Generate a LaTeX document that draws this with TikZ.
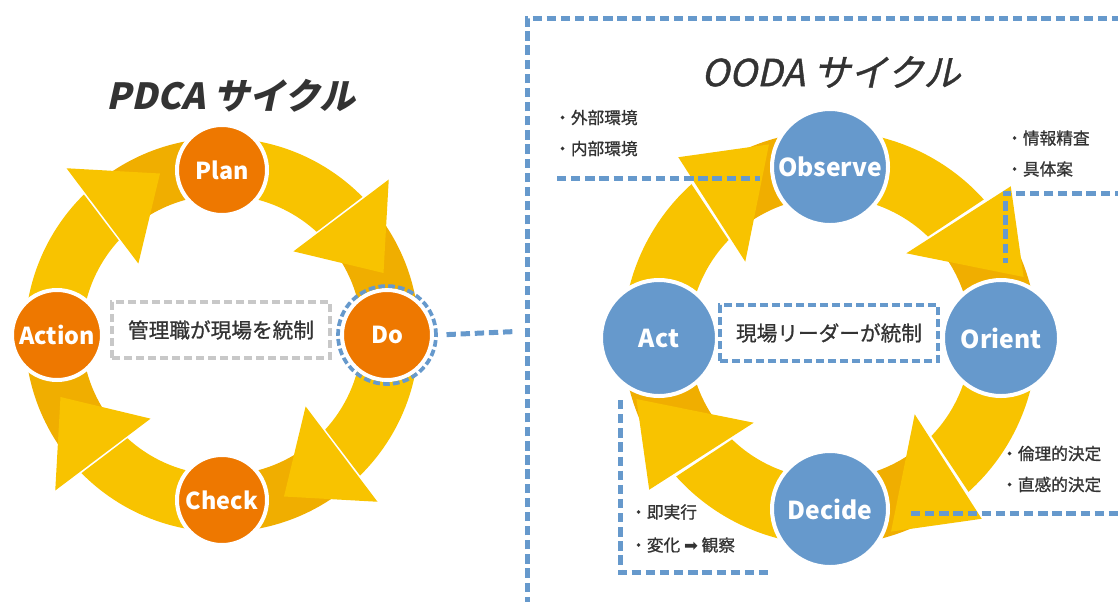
\documentclass[tikz,border=0pt]{standalone}
\usepackage{fontspec}
\setmainfont{Noto Sans CJK JP}[AutoFakeSlant=0.22]
\newfontfamily\titlefont{Noto Sans CJK JP}[FakeSlant=0.22]
\newfontfamily\titlemed{Noto Sans CJK JP}[FakeSlant=0.22, FakeBold=1]
\newfontfamily\medfont{Noto Sans CJK JP}[FakeBold=0.9]
\newfontfamily\symfont{DejaVu Sans}

\definecolor{ringyellow}{HTML}{F8C300}
\definecolor{ringdark}{HTML}{F0AE00}
\definecolor{pdcaorange}{HTML}{EE7800}
\definecolor{oodablue}{HTML}{6699CC}
\definecolor{textgray}{HTML}{333333}
\definecolor{boxgray}{HTML}{C8C8C8}

\tikzset{
  pdcanode/.style={circle, fill=pdcaorange, draw=white, line width=3pt,
    minimum size=67.5pt, inner sep=0pt, text=white,
    font=\fontsize{17.5}{20}\selectfont\bfseries},
  oodanode/.style={circle, fill=oodablue, draw=white, line width=3pt,
    minimum size=87pt, inner sep=0pt, text=white,
    font=\fontsize{18.5}{22}\selectfont\bfseries},
  bluedash/.style={draw=oodablue, line width=3.75pt, dash pattern=on 7pt off 3.6pt},
  ringdash/.style={circle, draw=oodablue, line width=2.8pt, dash pattern=on 5pt off 2.4pt,
    minimum size=73.5pt, inner sep=0pt},
  centerbox/.style={draw, line width=2.4pt, dash pattern=on 6pt off 3pt,
    minimum width=163.5pt, minimum height=42pt, text=textgray,
    font=\fontsize{15.5}{18}\selectfont\medfont},
  note/.style={anchor=west, align=left, inner sep=0pt, text=textgray,
    font=\fontsize{12.5}{23.25}\selectfont\medfont},
  cycletitle/.style={text=textgray, inner sep=0pt}
}

\begin{document}
\begin{tikzpicture}[x=0.75pt, y=-0.75pt]
  \useasboundingbox (0,0) rectangle (1118,601);

  % PDCA ring
  \begin{scope}[shift={(222,335)}]
    \foreach \t in {-90,0,90,180} {
      \fill[ringdark] ({\t-128}:140) arc[start angle=\t-128, end angle=\t-99, radius=140]
        -- ({\t-99}:197) arc[start angle=\t-99, end angle=\t-128, radius=197] -- cycle;
      \fill[ringyellow] ({\t-100}:140) arc[start angle=\t-100, end angle=\t-47.5, radius=140]
        -- ({\t-44.5}:197) arc[start angle=\t-44.5, end angle=\t-100, radius=197] -- cycle;
    }
    \foreach \t in {-90,0,90,180}
      \fill[ringyellow] ({\t-49.5}:110) -- ({\t-21}:173) -- ({\t-43}:228) -- cycle;

    \node[pdcanode] (plan)   at (-90:165) {Plan};
    \node[pdcanode] (do)     at (0:165)   {Do};
    \node[pdcanode] (check)  at (90:165)  {Check};
    \node[pdcanode] (action) at (180:165) {Action};
  \end{scope}

  % OODA ring
  \begin{scope}[shift={(830,338)}]
    \foreach \t in {-90,0,90,180} {
      \fill[ringdark] ({\t-125}:141) arc[start angle=\t-125, end angle=\t-99, radius=141]
        -- ({\t-99}:207) arc[start angle=\t-99, end angle=\t-125, radius=207] -- cycle;
      \fill[ringyellow] ({\t-100}:141) arc[start angle=\t-100, end angle=\t-46, radius=141]
        -- ({\t-42}:207) arc[start angle=\t-42, end angle=\t-100, radius=207] -- cycle;
    }
    \foreach \t in {-90,0,90,180}
      \fill[ringyellow] ({\t-48}:114) -- ({\t-17.5}:203) -- ({\t-40}:236) -- cycle;

    \node[oodanode] (observe) at (-90:171) {Observe};
    \node[oodanode] (orient)  at (0:171)   {Orient};
    \node[oodanode] (decide)  at (90:171)  {Decide};
    \node[oodanode] (act)     at (180:171) {Act};
  \end{scope}

  % Titles
  \node[cycletitle, font=\fontsize{27}{30}\selectfont\titlefont\bfseries] (pdcatitle) at (231,96) {PDCA サイクル};
  \node[cycletitle, font=\fontsize{28}{30}\selectfont\titlemed] (oodatitle) at (831,72) {OODA サイクル};

  % Boxes
  \node[centerbox, draw=boxgray] (pdcabox) at (221,330) {管理職が現場を統制};
  \node[centerbox, draw=oodablue] (oodabox) at (829,333) {現場リーダーが統制};

  % Frame and link
  \coordinate (framebl) at (527,606);
  \coordinate (frametl) at (527,18);
  \coordinate (frametr) at (1124,18);
  \coordinate (framein) at (527,331);
  \draw[bluedash] (framebl) -- (frametl) -- (frametr);
  \node[ringdash] (doring) at (do) {};
  \draw[bluedash, shorten <=6.5pt, shorten >=9pt] (doring.east) -- (framein);

  % Notes
  \node[note] (envnote)    at (554,133) {・外部環境\\・内部環境};
  \node[note] (infonote)   at (1006,153.5) {・情報精査\\・具体案};
  \node[note] (decidenote) at (1001,469) {・倫理的決定\\・直感的決定};
  \node[note, font=\fontsize{12.5}{24.75}\selectfont\medfont] (actnote) at (630,528.5)
    {・即実行\\・変化 {\symfont ➡} 観察};

  \coordinate (obsA) at (557,178);
  \coordinate (obsB) at (760,178);
  \coordinate (oriA) at (1124,193);
  \coordinate (oriB) at (1005,193);
  \coordinate (oriC) at (1005,263);
  \coordinate (decA) at (911,513);
  \coordinate (decB) at (1124,513);
  \coordinate (actA) at (620,400);
  \coordinate (actB) at (620,572);
  \coordinate (actC) at (772,572);
  \draw[bluedash] (obsA) -- (obsB);
  \draw[bluedash] (oriA) -- (oriB) -- (oriC);
  \draw[bluedash] (decA) -- (decB);
  \draw[bluedash] (actA) -- (actB) -- (actC);
\end{tikzpicture}
\end{document}
